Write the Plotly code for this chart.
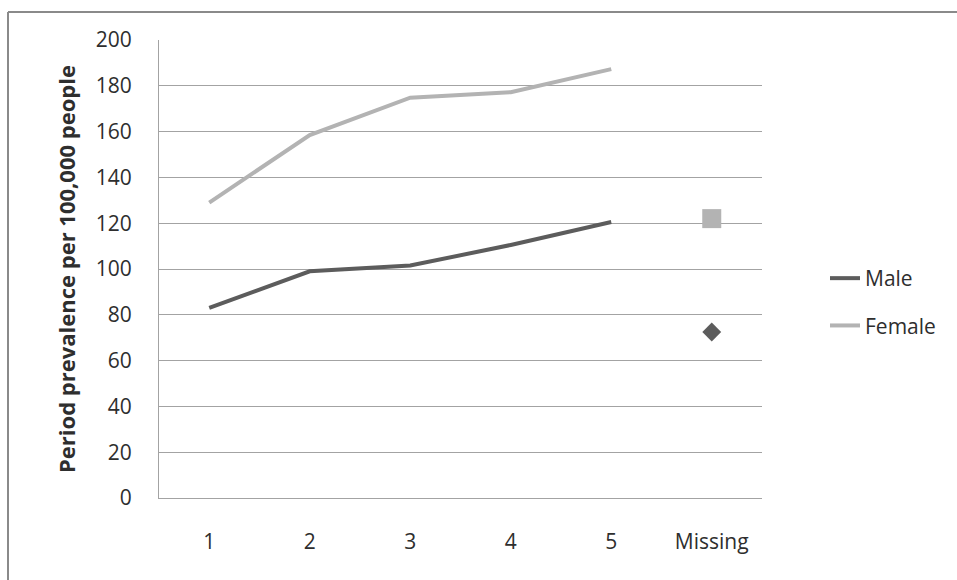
import plotly.graph_objects as go

# Period prevalence per 100,000 people by category
categories = ["1", "2", "3", "4", "5", "Missing"]
male_values = [83, 99, 101.5, 110.5, 120.5, 72.5]
female_values = [129, 158.5, 174.8, 177.2, 187.3, 122]
y_ticks = [0, 20, 40, 60, 80, 100, 120, 140, 160, 180, 200]

MALE_COLOR = "#5c5c5c"
FEMALE_COLOR = "#b3b3b3"
GRID_COLOR = "#a3a3a3"
TEXT_COLOR = "#2e2e2e"
FONT = "Open Sans"

W, H = 957, 580
M_L, M_R, M_T, M_B = 159, 195, 40, 82

fig = go.Figure()

# connected lines for the numbered categories
fig.add_trace(go.Scatter(
    x=categories[:5], y=male_values[:5], name="Male", mode="lines",
    line=dict(color=MALE_COLOR, width=4), legendgroup="male",
))
fig.add_trace(go.Scatter(
    x=categories[:5], y=female_values[:5], name="Female", mode="lines",
    line=dict(color=FEMALE_COLOR, width=4), legendgroup="female",
))
# separate markers for the "Missing" category
fig.add_trace(go.Scatter(
    x=categories[5:], y=female_values[5:], mode="markers", showlegend=False,
    marker=dict(symbol="square", size=19, color=FEMALE_COLOR), legendgroup="female",
))
fig.add_trace(go.Scatter(
    x=categories[5:], y=male_values[5:], mode="markers", showlegend=False,
    marker=dict(symbol="diamond", size=14.5, color=MALE_COLOR), legendgroup="male",
))

# frame lines along the left and top of the chart area
pw = W - M_L - M_R
ph = H - M_T - M_B
def px_x(v):
    return (v - M_L) / pw
def px_y(v):
    return (H - M_B - v) / ph

frame = dict(color="#8a8a8a", width=2)
fig.add_shape(type="line", xref="paper", yref="paper",
              x0=px_x(8), x1=px_x(W + 5), y0=px_y(12), y1=px_y(12), line=frame)
fig.add_shape(type="line", xref="paper", yref="paper",
              x0=px_x(8), x1=px_x(8), y0=px_y(12), y1=px_y(H + 5), line=frame)

fig.update_layout(
    width=W, height=H,
    margin=dict(l=M_L, r=M_R, t=M_T, b=M_B),
    paper_bgcolor="white", plot_bgcolor="white",
    font=dict(family=FONT, size=21, color=TEXT_COLOR),
    showlegend=True,
    legend=dict(
        x=px_x(825), y=px_y(258), xanchor="left", yanchor="top",
        font=dict(family=FONT, size=21, color=TEXT_COLOR),
        tracegroupgap=17, bgcolor="rgba(0,0,0,0)",
    ),
    xaxis=dict(
        type="category", categoryorder="array", categoryarray=categories,
        range=[-0.5, 5.5], showgrid=False, zeroline=False,
        showline=True, linecolor=GRID_COLOR, linewidth=1,
        ticks="", ticklabelstandoff=25,
        tickfont=dict(family=FONT, size=21, color=TEXT_COLOR),
    ),
    yaxis=dict(
        range=[0, 200], tickvals=y_ticks, showgrid=True, gridcolor=GRID_COLOR,
        gridwidth=1, zeroline=False, showline=True, linecolor=GRID_COLOR,
        linewidth=1, ticks="", ticklabelstandoff=22,
        tickfont=dict(family=FONT, size=21, color=TEXT_COLOR),
        title=dict(text="<b>Period prevalence per 100,000 people</b>",
                   font=dict(family=FONT, size=22, color=TEXT_COLOR), standoff=14),
    ),
)

fig.write_html("out.html")
